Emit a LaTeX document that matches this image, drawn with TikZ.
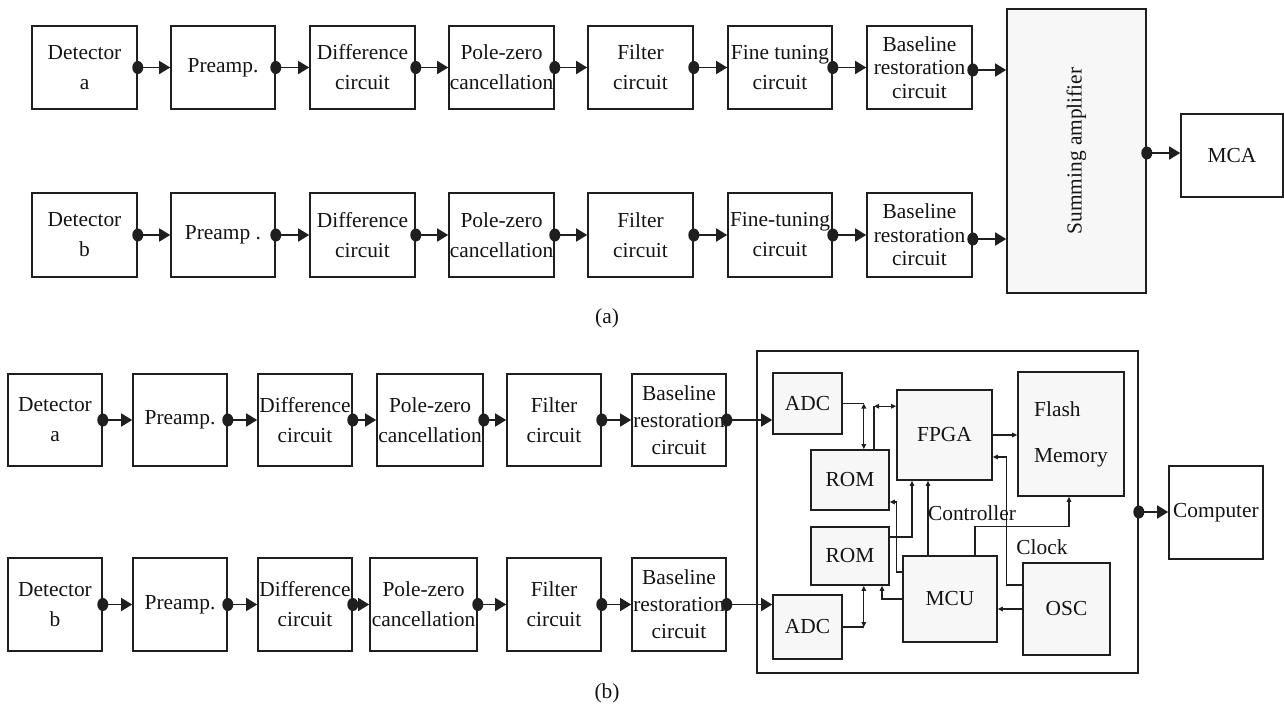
\documentclass[tikz,border=0pt]{standalone}
\usepackage{fontspec}
\usepackage{graphicx}
\setmainfont{Liberation Serif}
\usetikzlibrary{arrows.meta}
\newcommand\jointdot[1]{\fill[black!88] (#1) ellipse [x radius=5.5pt, y radius=6.5pt];}
\begin{document}
\begin{tikzpicture}[x=1pt,y=-1pt,
  every node/.style={font=\fontsize{21.4}{30}\selectfont, inner sep=0pt, align=center, text=black!92},
  blk/.style={draw=black!88, line width=1.6pt, fill=white},
  gbox/.style={draw=black!88, line width=1.6pt, fill=black!3},
  flow/.style={draw=black!88, line width=1.5pt, -{Triangle[length=11pt,width=13pt]}},
  sig/.style={draw=black!88, line width=1.3pt, -{Triangle[length=5pt,width=4.5pt]}},
  sigb/.style={draw=black!88, line width=1.3pt, {Triangle[length=5pt,width=4.5pt]}-{Triangle[length=5pt,width=4.5pt]}},
  wire/.style={draw=black!88, line width=1.3pt},
  three/.style={font=\fontsize{21.4}{23.5}\selectfont},
  threeb/.style={font=\fontsize{21.4}{27}\selectfont}]
\useasboundingbox (0,0) rectangle (1284,715);

% ---------------- (a) ----------------
\begin{scope}[every node/.append style={minimum height=83pt}]
\node[blk, minimum width=105pt] (da)  at (84.5,67.5)  {Detector\\a};
\node[blk, minimum width=104pt] (pa)  at (223,67.5)   {Preamp.};
\node[blk, minimum width=105pt] (dfa) at (362.5,67.5) {Difference\\circuit};
\node[blk, minimum width=105pt] (pza) at (501.5,67.5) {Pole-zero\\cancellation};
\node[blk, minimum width=105pt] (fa)  at (640.5,67.5) {Filter\\circuit};
\node[blk, minimum width=104pt] (fta) at (780,67.5)   {Fine tuning\\circuit};
\node[blk, three, minimum width=105pt] (ba) at (919.5,67.5) {Baseline\\restoration\\circuit};
\end{scope}
\begin{scope}[every node/.append style={minimum height=84pt}]
\node[blk, minimum width=105pt] (db)  at (84.5,235)  {Detector\\b};
\node[blk, minimum width=104pt] (pb)  at (223,235)   {Preamp .};
\node[blk, minimum width=105pt] (dfb) at (362.5,235) {Difference\\circuit};
\node[blk, minimum width=105pt] (pzb) at (501.5,235) {Pole-zero\\cancellation};
\node[blk, minimum width=105pt] (fb)  at (640.5,235) {Filter\\circuit};
\node[blk, minimum width=104pt] (ftb) at (780,235)   {Fine-tuning\\circuit};
\node[blk, three, minimum width=105pt] (bb) at (919.5,235) {Baseline\\restoration\\circuit};
\end{scope}
\node[gbox, minimum width=139pt, minimum height=284pt] (sum) at (1076.5,151) {\rotatebox{90}{Summing amplifier}};
\node[blk, minimum width=102pt, minimum height=83pt] (mca) at (1232,155.5) {MCA};

\foreach \s/\t in {da/pa,pa/dfa,dfa/pza,pza/fa,fa/fta,fta/ba,db/pb,pb/dfb,dfb/pzb,pzb/fb,fb/ftb,ftb/bb}{
  \draw[flow] (\s.east) -- (\t.west);
  \jointdot{\s.east}
}
\draw[flow] ([yshift=-2.5pt]ba.east) -- ([yshift=-2.5pt]ba.east -| sum.west);
\jointdot{[yshift=-2.5pt]ba.east}
\draw[flow] ([yshift=-4pt]bb.east) -- ([yshift=-4pt]bb.east -| sum.west);
\jointdot{[yshift=-4pt]bb.east}
\draw[flow] ([yshift=-2pt]sum.east) -- ([yshift=-2pt]sum.east -| mca.west);
\jointdot{[yshift=-2pt]sum.east}

\node (capa) at (607,318) {(a)};

% ---------------- (b) ----------------
\node[blk, minimum width=381pt, minimum height=322pt] (big) at (947.5,512) {};
\begin{scope}[every node/.append style={minimum height=92pt}]
\node[blk, minimum width=94pt]  (Da)  at (55,420)  {Detector\\a};
\node[blk, minimum width=94pt]  (Pa)  at (180,420) {Preamp.};
\node[blk, minimum width=94pt]  (Dfa) at (305,420) {Difference\\circuit};
\node[blk, minimum width=106pt] (PZa) at (430,420) {Pole-zero\\cancellation};
\node[blk, minimum width=94pt]  (Fa)  at (554,420) {Filter\\circuit};
\node[blk, threeb, minimum width=94pt] (Ba) at (679,420) {Baseline\\restoration\\circuit};
\end{scope}
\begin{scope}[every node/.append style={minimum height=93pt}]
\node[blk, minimum width=94pt]  (Db)  at (55,604.5)  {Detector\\b};
\node[blk, minimum width=94pt]  (Pb)  at (180,604.5) {Preamp.};
\node[blk, minimum width=94pt]  (Dfb) at (305,604.5) {Difference\\circuit};
\node[blk, minimum width=107pt] (PZb) at (423.5,604.5) {Pole-zero\\cancellation};
\node[blk, minimum width=94pt]  (Fb)  at (554,604.5) {Filter\\circuit};
\node[blk, threeb, minimum width=94pt] (Bb) at (679,604.5) {Baseline\\restoration\\circuit};
\end{scope}

\foreach \s/\t in {Da/Pa,Pa/Dfa,Dfa/PZa,PZa/Fa,Fa/Ba,Db/Pb,Pb/Dfb,Dfb/PZb,PZb/Fb,Fb/Bb}{
  \draw[flow] (\s.east) -- (\t.west);
  \jointdot{\s.east}
}

\node[gbox, minimum width=69pt, minimum height=61pt]  (adc1)  at (807.5,403.5) {ADC};
\node[gbox, minimum width=69pt, minimum height=64pt]  (adc2)  at (807.5,627)   {ADC};
\node[gbox, minimum width=78pt, minimum height=60pt]  (rom1)  at (850,480)     {ROM};
\node[gbox, minimum width=78pt, minimum height=58pt]  (rom2)  at (850,556)     {ROM};
\node[gbox, minimum width=95pt, minimum height=90pt]  (fpga)  at (944.5,435)   {FPGA};
\node[gbox, minimum width=106pt, minimum height=124pt, align=left, font=\fontsize{21.4}{46}\selectfont] (flash) at (1071,434) {Flash\\Memory};
\node[gbox, minimum width=94pt, minimum height=86pt]  (mcu)   at (950,599)     {MCU};
\node[gbox, minimum width=87pt, minimum height=92pt]  (osc)   at (1066.5,609)  {OSC};
\node[blk, minimum width=94pt, minimum height=93pt]   (comp)  at (1216,512.5)  {Computer};

\draw[flow] (Ba.east) -- (Ba.east -| adc1.west);
\jointdot{Ba.east}
\draw[flow] (Bb.east) -- (Bb.east -| adc2.west);
\jointdot{Bb.east}
\draw[flow] (big.east) -- (big.east -| comp.west);
\jointdot{big.east}

% internal connections
\draw[wire] (adc1.east) -- ++(21,0) coordinate (j1);
\draw[sigb] (j1) -- (j1 |- rom1.north);
\draw[wire] ([xshift=24pt]rom1.north) -- ++(0,-43) coordinate (j2);
\draw[sigb] (j2) -- (j2 -| fpga.west);
\draw[sig] (fpga.east) -- (fpga.east -| flash.west);
\draw[sig] ([yshift=24pt]osc.west) -- ++(-16,0) |- ([yshift=-22pt]fpga.east);
\draw[sig] (osc.west) -- (osc.west -| mcu.east);
\draw[sig] ([xshift=-22pt]mcu.north) -- ([xshift=-22pt]mcu.north |- fpga.south);
\draw[sig] ([xshift=25pt]mcu.north) -- ++(0,-29) -| ([xshift=-2pt]flash.south);
\draw[sig] ([yshift=19pt]rom2.east) -| ([xshift=-32.5pt]fpga.south);
\draw[sig] ([yshift=27pt]mcu.west) -- ++(-6,0) |- ([yshift=-22pt]rom1.east);
\draw[sig] (mcu.west) -| ([xshift=32pt]rom2.south);
\draw[wire] (adc2.east) -- ++(21,0) coordinate (j11);
\draw[sigb] (j11) -- (j11 |- rom2.south);

\node (ctrl) at (972,513) {Controller};
\node (clk) at (1042,547) {Clock};

\node (capb) at (607,693) {(b)};
\end{tikzpicture}
\end{document}
